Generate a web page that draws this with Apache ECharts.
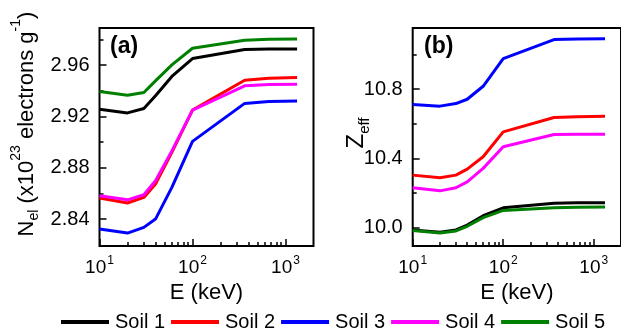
<!DOCTYPE html>
<html>
<head>
<meta charset="utf-8">
<script src="https://cdn.jsdelivr.net/npm/echarts@6/dist/echarts.min.js"></script>
<style>html,body{margin:0;padding:0;background:#fff}#c{width:621px;height:330px}</style>
</head>
<body>
<div id="c"></div>
<script>
// ---- data ----
const energies = [10, 20, 30, 40, 60, 100, 364, 662, 1332];
const soilNames = ['Soil 1', 'Soil 2', 'Soil 3', 'Soil 4', 'Soil 5'];
const soilColors = ['#000000', '#ff0000', '#0000ff', '#ff00ff', '#008000'];

// Panel (a): N_el (x10^23 electrons/g)
const nel_soil1 = [2.9257, 2.9228, 2.9262, 2.9361, 2.9512, 2.9652, 2.9722, 2.9726, 2.9727];
const nel_soil2 = [2.8564, 2.8525, 2.8569, 2.8673, 2.8920, 2.9250, 2.9483, 2.9498, 2.9504];
const nel_soil3 = [2.8322, 2.8291, 2.8335, 2.8400, 2.8647, 2.9006, 2.9302, 2.9316, 2.9320];
const nel_soil4 = [2.8582, 2.8550, 2.8590, 2.8699, 2.8932, 2.9250, 2.9439, 2.9449, 2.9452];
const nel_soil5 = [2.9395, 2.9366, 2.9387, 2.9478, 2.9602, 2.9732, 2.9795, 2.9803, 2.9805];

// Panel (b): Z_eff
const zeff_soil1 = [9.986, 9.972, 9.986, 10.014, 10.068, 10.114, 10.140, 10.143, 10.143];
const zeff_soil2 = [10.303, 10.288, 10.303, 10.338, 10.409, 10.553, 10.636, 10.641, 10.644];
const zeff_soil3 = [10.711, 10.702, 10.717, 10.742, 10.817, 10.977, 11.087, 11.091, 11.092];
const zeff_soil4 = [10.230, 10.212, 10.230, 10.264, 10.342, 10.467, 10.538, 10.539, 10.540];
const zeff_soil5 = [9.982, 9.968, 9.980, 10.007, 10.057, 10.099, 10.114, 10.117, 10.118];

// ticks
const xMajor = [10, 100, 1000];
const xMinor = [20, 30, 40, 50, 60, 70, 80, 90, 200, 300, 400, 500, 600, 700, 800, 900];
const nelMajor = [2.84, 2.88, 2.92, 2.96];
const nelMinor = [2.86, 2.90, 2.94, 2.98];
const zeffMajor = [10.0, 10.4, 10.8];
const zeffMinor = [10.2, 10.6, 11.0];

// ---- chart ----
const FONT = 'Liberation Sans, Arial, sans-serif';
const nelSets = [nel_soil1, nel_soil2, nel_soil3, nel_soil4, nel_soil5];
const zeffSets = [zeff_soil1, zeff_soil2, zeff_soil3, zeff_soil4, zeff_soil5];

function pairs(arr) { return energies.map((e, i) => [e, arr[i]]); }

const xLabelRich = {
  b: { fontSize: 19, fontFamily: FONT, color: '#000', lineHeight: 22, verticalAlign: 'bottom' },
  s: { fontSize: 12, fontFamily: FONT, color: '#000', lineHeight: 22, verticalAlign: 'top', padding: [0, 0, 8, 1] }
};

function majorX(grid) {
  return {
    type: 'log', logBase: 10, gridIndex: grid, min: 10, max: 2000, position: 'bottom',
    name: 'E (keV)', nameLocation: 'middle', nameGap: 34,
    nameTextStyle: { fontSize: 22, fontFamily: FONT, color: '#000' },
    axisLine: { show: false, onZero: false },
    axisTick: { show: true, inside: true, length: 7, customValues: xMajor, lineStyle: { color: '#000', width: 1.5 } },
    axisLabel: {
      show: true, margin: 9, customValues: xMajor,
      formatter: v => '{b|10}{s|' + Math.round(Math.log10(v)) + '}',
      rich: xLabelRich
    },
    splitLine: { show: false }
  };
}
function minorX(grid) {
  return {
    type: 'log', logBase: 10, gridIndex: grid, min: 10, max: 2000, position: 'bottom',
    axisLine: { show: false, onZero: false },
    axisTick: { show: true, inside: true, length: 4, customValues: xMinor, lineStyle: { color: '#000', width: 1.5 } },
    axisLabel: { show: false },
    splitLine: { show: false }
  };
}

const option = {
  animation: false,
  backgroundColor: '#fff',
  textStyle: { fontFamily: FONT },
  title: [
    { text: '(a)', left: 110, top: 35, padding: 0, textStyle: { fontSize: 23, fontWeight: 'bold', fontFamily: FONT, color: '#000' } },
    { text: '(b)', left: 424, top: 35, padding: 0, textStyle: { fontSize: 23, fontWeight: 'bold', fontFamily: FONT, color: '#000' } }
  ],
  legend: {
    left: 56, top: 307, itemWidth: 48, itemHeight: 4, itemGap: 6, icon: 'rect',
    data: soilNames,
    textStyle: { fontSize: 20, fontFamily: FONT, color: '#000', padding: [0, 0, 0, 1] }
  },
  grid: [
    { left: 99.5, top: 28, width: 214, height: 218, show: true, borderColor: '#000', borderWidth: 2, backgroundColor: 'transparent', containLabel: false },
    { left: 412.7, top: 28, width: 214.7, height: 218, show: true, borderColor: '#000', borderWidth: 2, backgroundColor: 'transparent', containLabel: false }
  ],
  xAxis: [majorX(0), minorX(0), majorX(1), minorX(1)],
  yAxis: [
    {
      type: 'value', gridIndex: 0, min: 2.819, max: 2.989, position: 'left',
      name: '{n|N}{sub|el}{n| (x10}{sup|23}{n| electrons g}{sup|-1}{n|)}',
      nameLocation: 'middle', nameRotate: 90, nameGap: 62, nameMoveOverlap: false,
      nameTextStyle: {
        padding: [0, 0, 0, 26],
        rich: {
          n: { fontSize: 22, fontFamily: FONT, color: '#000', lineHeight: 28, verticalAlign: 'bottom' },
          sub: { fontSize: 14, fontFamily: FONT, color: '#000', lineHeight: 28, verticalAlign: 'bottom', padding: [0, 0, -4, 0] },
          sup: { fontSize: 14, fontFamily: FONT, color: '#000', lineHeight: 28, verticalAlign: 'top' }
        }
      },
      axisLine: { show: false, onZero: false },
      axisTick: { show: true, inside: true, length: 7, customValues: nelMajor, lineStyle: { color: '#000', width: 1.5 } },
      axisLabel: { show: true, customValues: nelMajor, margin: 10, fontSize: 20, color: '#000', fontFamily: FONT, formatter: v => v.toFixed(2) },
      splitLine: { show: false }
    },
    {
      type: 'value', gridIndex: 0, min: 2.819, max: 2.989, position: 'left',
      axisLine: { show: false, onZero: false },
      axisTick: { show: true, inside: true, length: 4, customValues: nelMinor, lineStyle: { color: '#000', width: 1.5 } },
      axisLabel: { show: false }, splitLine: { show: false }
    },
    {
      type: 'value', gridIndex: 1, min: 9.893, max: 11.154, position: 'left',
      name: '{n|Z}{sub|eff}',
      nameLocation: 'middle', nameRotate: 90, nameGap: 44, nameMoveOverlap: false,
      nameTextStyle: {
        padding: [0, 0, 0, 8],
        rich: {
          n: { fontSize: 24, fontFamily: FONT, color: '#000', lineHeight: 28, verticalAlign: 'bottom' },
          sub: { fontSize: 15, fontFamily: FONT, color: '#000', lineHeight: 28, verticalAlign: 'bottom', padding: [0, 0, -4, 0] }
        }
      },
      axisLine: { show: false, onZero: false },
      axisTick: { show: true, inside: true, length: 7, customValues: zeffMajor, lineStyle: { color: '#000', width: 1.5 } },
      axisLabel: { show: true, customValues: zeffMajor, margin: 10, fontSize: 20, color: '#000', fontFamily: FONT, formatter: v => v.toFixed(1) },
      splitLine: { show: false }
    },
    {
      type: 'value', gridIndex: 1, min: 9.893, max: 11.154, position: 'left',
      axisLine: { show: false, onZero: false },
      axisTick: { show: true, inside: true, length: 4, customValues: zeffMinor, lineStyle: { color: '#000', width: 1.5 } },
      axisLabel: { show: false }, splitLine: { show: false }
    }
  ],
  series: []
};

soilNames.forEach((name, i) => {
  option.series.push({
    name, type: 'line', xAxisIndex: 0, yAxisIndex: 0, data: pairs(nelSets[i]),
    showSymbol: false, symbol: 'none', lineStyle: { color: soilColors[i], width: 3 }, itemStyle: { color: soilColors[i] }, z: 3
  });
});
soilNames.forEach((name, i) => {
  option.series.push({
    name, type: 'line', xAxisIndex: 2, yAxisIndex: 2, data: pairs(zeffSets[i]),
    showSymbol: false, symbol: 'none', lineStyle: { color: soilColors[i], width: 3 }, itemStyle: { color: soilColors[i] }, z: 3
  });
});

const chart = echarts.init(document.getElementById('c'), null, { renderer: 'canvas' });
chart.setOption(option);
</script>
</body>
</html>
